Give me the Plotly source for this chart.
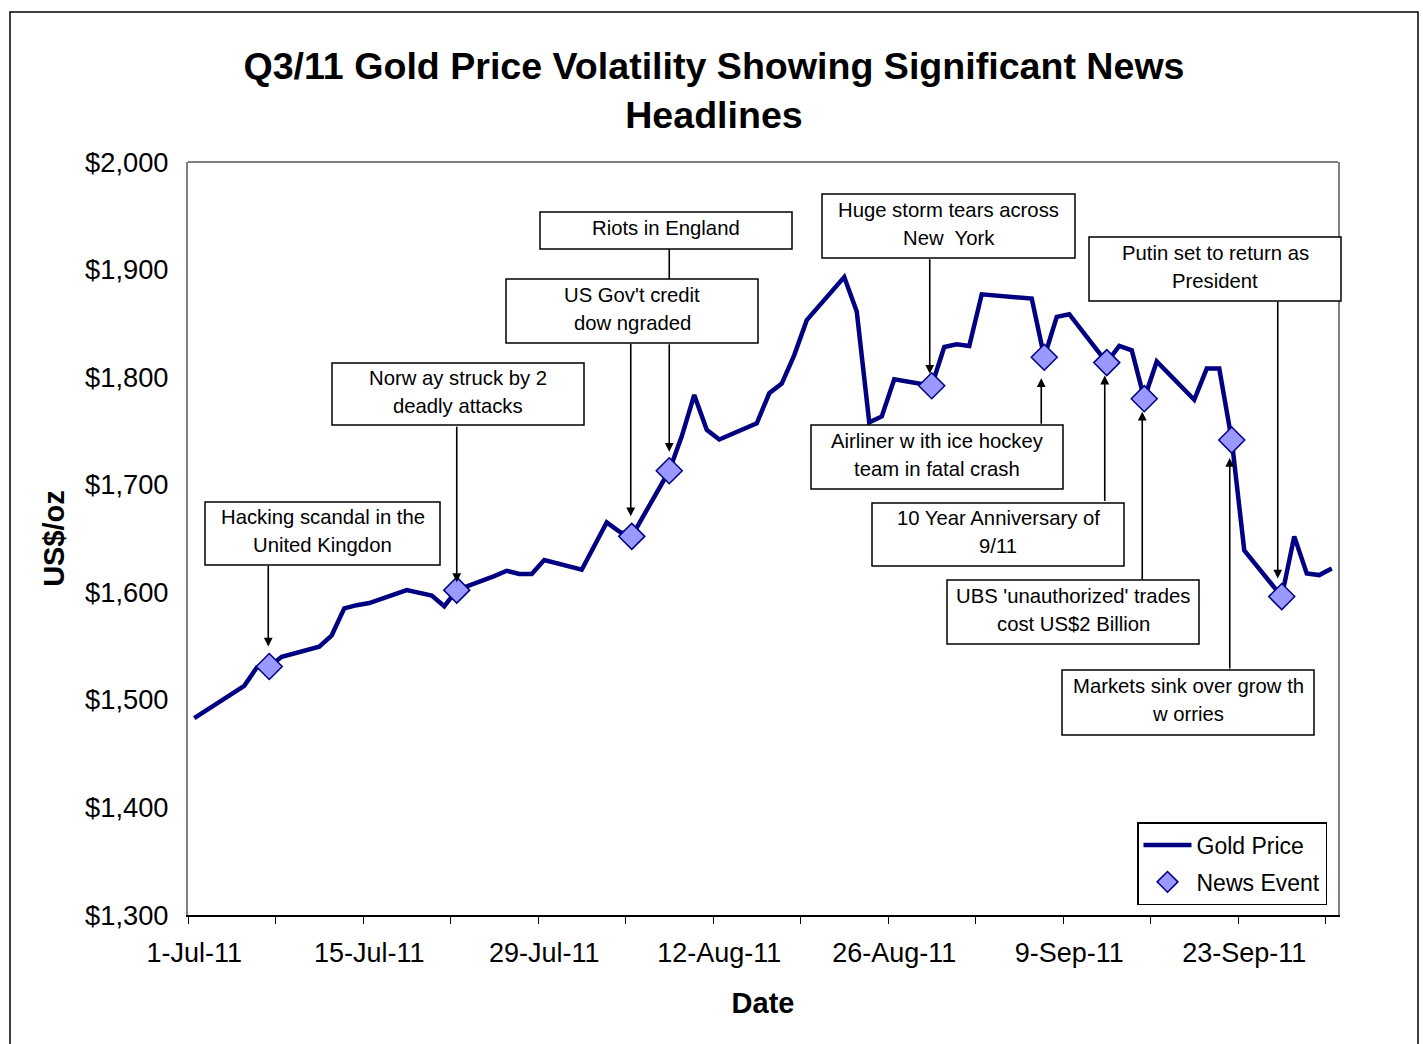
import plotly.graph_objects as go

# ---------------- data ----------------
dates = ["2011-07-01","2011-07-05","2011-07-06","2011-07-07","2011-07-08","2011-07-11","2011-07-12",
         "2011-07-13","2011-07-14","2011-07-15","2011-07-18","2011-07-19","2011-07-20","2011-07-21",
         "2011-07-22","2011-07-25","2011-07-26","2011-07-27","2011-07-28","2011-07-29",
         "2011-08-01","2011-08-02","2011-08-03","2011-08-04","2011-08-05","2011-08-08","2011-08-09",
         "2011-08-10","2011-08-11","2011-08-12","2011-08-15","2011-08-16","2011-08-17","2011-08-18",
         "2011-08-19","2011-08-22","2011-08-23","2011-08-24","2011-08-25","2011-08-26","2011-08-29",
         "2011-08-30","2011-08-31",
         "2011-09-01","2011-09-02","2011-09-06","2011-09-07","2011-09-08","2011-09-09","2011-09-12",
         "2011-09-13","2011-09-14","2011-09-15","2011-09-16","2011-09-19","2011-09-20","2011-09-21",
         "2011-09-22","2011-09-23","2011-09-26","2011-09-27","2011-09-28","2011-09-29","2011-09-30"]

prices = [1483,1513,1530,1531,1540,1549.5,1560,1585,1588,1590,1602,1600,1597,1587,1602,1615,1620,1617,1617,1630,
          1621,1643,1665,1656.5,1652,1713,1745,1783.5,1751,1742,1757,1785,1794,1820.5,1853,1893,1861,1758,1763.5,
          1798,1792,1828,1830.5,
          1829,1877,1873,1818.5,1856,1858.5,1813.5,1829,1825,1780,1814.5,1779,1808,1808,1741.5,1639,1596,1652,
          1617.5,1616,1622]

event_dates = ["2011-07-07","2011-07-22","2011-08-05","2011-08-08","2011-08-29",
               "2011-09-07","2011-09-12","2011-09-15","2011-09-22","2011-09-26"]

event_labels = ["Hacking scandal in the<br>United Kingdon",
                "Norw ay struck by 2<br>deadly attacks",
                "US Gov't credit<br>dow ngraded",
                "Riots in England",
                "Huge storm tears across<br>New  York",
                "Airliner w ith ice hockey<br>team in fatal crash",
                "10 Year Anniversary of<br>9/11",
                "UBS 'unauthorized' trades<br>cost US$2 Billion",
                "Markets sink over grow th<br>w orries",
                "Putin set to return as<br>President"]

y_ticks = [1300, 1400, 1500, 1600, 1700, 1800, 1900, 2000]
y_tick_labels = ["$1,300", "$1,400", "$1,500", "$1,600", "$1,700", "$1,800", "$1,900", "$2,000"]

price_by_date = dict(zip(dates, prices))
event_prices = [price_by_date[d] for d in event_dates]

# ---------------- layout helpers (pixel -> paper) ----------------
PL, PR, PT, PB = 188, 1338, 162, 915
W, H = 1423, 1044
def px_x(p):
    return (p - PL) / (PR - PL)
def px_y(p):
    return (PB - p) / (PB - PT)

FONT = "Arial, Liberation Sans, sans-serif"
NAVY = "#000080"

# box rectangles (left, top, right, bottom) px, arrow tail offset px, standoff, xshift, connector (y_top, y_bottom) or None
boxes = [
    (205, 502, 440, 565, -102, 20, -1, None),
    (332, 363, 584, 425, -165, 8, 0, None),
    (506, 279, 758, 343, -194, 20, -1, None),
    (540, 212, 792, 249, -128, 19, 0, (249, 279)),
    (822, 194, 1075, 258, -128, 12, -2, None),
    (811, 425, 1063, 489, 68, 21, -3, None),
    (872, 503, 1124, 566, 140, 13, -2, None),
    (947, 580, 1199, 644, 182, 13, -2, None),
    (1062, 670, 1314, 735, 230, 18, -2, None),
    (1089, 237, 1341, 301, -296, 18, -4, None),
]

fig = go.Figure()
fig.add_trace(go.Scatter(x=dates, y=prices, mode="lines", name="Gold Price",
                         legendgroup="a",
                         line=dict(color=NAVY, width=4.5)))
fig.add_trace(go.Scatter(x=event_dates, y=event_prices, mode="markers", name="News Event",
                         legendgroup="b",
                         marker=dict(symbol="diamond", size=20, color="#9999FF",
                                     line=dict(color=NAVY, width=1.5))))

annotations = []
shapes = []
LINE_GAP = 28
for (lbl, d, p, b) in zip(event_labels, event_dates, event_prices, boxes):
    l, t, r, bt, ay, so, xs, conn = b
    # arrow
    annotations.append(dict(x=d, y=p, xref="x", yref="y", text="", showarrow=True,
                            ax=0, ay=ay, arrowhead=2, arrowsize=1.1, arrowwidth=1.6,
                            arrowcolor="black", standoff=so, xshift=xs))
    if conn is not None:
        shapes.append(dict(type="line", xref="x", yref="paper", x0=d, x1=d,
                           y0=px_y(conn[0]), y1=px_y(conn[1]),
                           line=dict(color="black", width=1.6), layer="above"))
    # box
    shapes.append(dict(type="rect", xref="paper", yref="paper",
                       x0=px_x(l), x1=px_x(r), y0=px_y(bt), y1=px_y(t),
                       line=dict(color="black", width=1.5), fillcolor="white", layer="above"))
    lines = lbl.split("<br>")
    cy = (t + bt) / 2 - 2.5
    n = len(lines)
    for i, ln in enumerate(lines):
        yy = cy + (i - (n - 1) / 2) * LINE_GAP
        annotations.append(dict(x=px_x((l + r) / 2), y=px_y(yy), xref="paper", yref="paper",
                                text=ln, showarrow=False, xanchor="center", yanchor="middle",
                                align="center", font=dict(size=20.3, color="black", family=FONT)))

# top border of plot area (gray)
shapes.append(dict(type="line", xref="paper", yref="paper", x0=0, x1=1, y0=1, y1=1,
                   line=dict(color="#808080", width=2)))
# outer chart border
shapes.append(dict(type="rect", xref="paper", yref="paper",
                   x0=px_x(10), x1=px_x(1418), y0=px_y(1070), y1=px_y(12),
                   line=dict(color="black", width=1.5), fillcolor="rgba(0,0,0,0)", layer="below"))

fig.update_layout(
    width=W, height=H,
    margin=dict(l=PL, r=W - PR, t=PT, b=H - PB, pad=0),
    paper_bgcolor="white", plot_bgcolor="white",
    font=dict(family=FONT, color="black"),
    title=dict(text="<b>Q3/11 Gold Price Volatility Showing Significant News<br>Headlines</b>",
               x=714 / W, xanchor="center", xref="container",
               y=1 - 79 / H, yanchor="middle", yref="container",
               font=dict(size=37.6, color="black", family=FONT)),
    xaxis=dict(type="date",
               range=["2011-06-30 12:00", "2011-09-30 12:00"],
               tick0="2011-07-01", dtick=14 * 86400000, tickformat="%-d-%b-%y",
               ticks="", showgrid=False, zeroline=False,
               showline=True, linecolor="black", linewidth=1.5,
               tickfont=dict(size=27, color="black", family=FONT),
               ticklabelstandoff=13,
               minor=dict(ticks="outside", tick0="2011-06-30 12:00", dtick=7 * 86400000,
                          ticklen=7, tickcolor="black", tickwidth=1.2, showgrid=False),
               title=dict(text="<b>Date</b>", font=dict(size=29, color="black", family=FONT),
                          standoff=26)),
    yaxis=dict(range=[1300, 2000], tickvals=y_ticks, ticktext=y_tick_labels,
               showgrid=False, zeroline=False, ticks="",
               showline=True, linecolor="#808080", linewidth=2, mirror=True,
               tickfont=dict(size=27.3, color="black", family=FONT),
               ticklabelstandoff=12,
               title=dict(text="<b>US$/oz</b>", font=dict(size=29, color="black", family=FONT),
                          standoff=12)),
    legend=dict(x=px_x(1137), y=px_y(822), xanchor="left", yanchor="top",
                bordercolor="black", borderwidth=1.5, bgcolor="white",
                font=dict(size=23, color="black", family=FONT),
                traceorder="grouped", tracegroupgap=4, itemwidth=48),
    showlegend=True,
    annotations=annotations,
    shapes=shapes,
)

fig.write_html("out.html", post_script="document.body.style.margin='0';",
               config={"displayModeBar": False})
